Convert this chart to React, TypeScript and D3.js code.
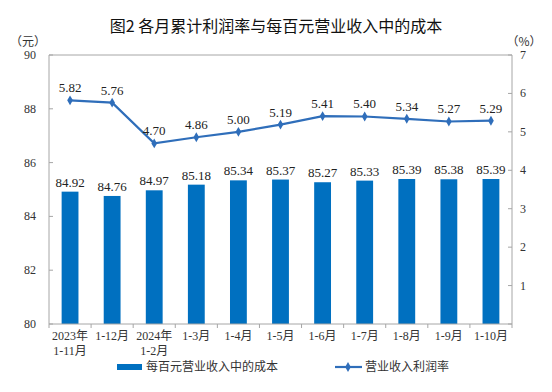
import React from 'react';
import * as d3 from 'd3';

const categories = [
  ['2023年', '1-11月'],
  ['1-12月'],
  ['2024年', '1-2月'],
  ['1-3月'],
  ['1-4月'],
  ['1-5月'],
  ['1-6月'],
  ['1-7月'],
  ['1-8月'],
  ['1-9月'],
  ['1-10月'],
];
const costValues = [84.92, 84.76, 84.97, 85.18, 85.34, 85.37, 85.27, 85.33, 85.39, 85.38, 85.39];
const profitRate = [5.82, 5.76, 4.7, 4.86, 5.0, 5.19, 5.41, 5.4, 5.34, 5.27, 5.29];
const leftTicks = [80, 82, 84, 86, 88, 90];
const rightTicks = [0, 1, 2, 3, 4, 5, 6, 7];

const width = 552;
const height = 392;
const margin = { top: 55, right: 40, bottom: 68, left: 49 };
const numFont = '"Liberation Serif", "Noto Sans CJK SC", serif';
const cjkFont = '"Noto Sans CJK SC", sans-serif';
const barColor = '#0070C0';
const lineColor = '#2F6EBA';
const axisColor = '#A6A6A6';

const App: React.FC = () => {
  const x = d3.scaleBand()
    .domain(categories.map((_, i) => i.toString()))
    .range([margin.left, width - margin.right])
    .paddingInner(0.6)
    .paddingOuter(0.3);
  const step = x.step();
  const bandStart = margin.left;
  const yLeft = d3.scaleLinear().domain([80, 90]).range([height - margin.bottom, margin.top]);
  const yRight = d3.scaleLinear().domain([0, 7]).range([height - margin.bottom, margin.top]);
  const cx = (i: number) => bandStart + step * (i + 0.5);
  const barW = x.bandwidth();

  const line = d3.line<number>()
    .x((_, i) => cx(i))
    .y(d => yRight(d));

  const diamond = d3.symbol().type(d3.symbolDiamond).size(28)() || '';
  const x0 = margin.left;
  const x1 = width - margin.right;
  const yb = height - margin.bottom;
  const yt = margin.top;

  return (
    <svg width={width} height={height} style={{ position: 'absolute', left: 0, top: 0 }}>
      <rect width={width} height={height} fill="#fff" />
      <text x={width / 2} y={32} textAnchor="middle" fontFamily={cjkFont} fontSize={16} fill="#111">
        图2 各月累计利润率与每百元营业收入中的成本
      </text>
      <text x={28} y={46} textAnchor="middle" fontFamily={cjkFont} fontSize={12} fill="#333">（元）</text>
      <text x={524} y={46} textAnchor="middle" fontFamily={cjkFont} fontSize={12} fill="#333">（%）</text>

      {/* frame */}
      <line x1={x0} x2={x1} y1={yt} y2={yt} stroke={axisColor} />
      <line x1={x0} x2={x0} y1={yt} y2={yb} stroke={axisColor} />
      <line x1={x1} x2={x1} y1={yt} y2={yb} stroke={axisColor} />

      {/* bars */}
      {costValues.map((v, i) => (
        <rect key={i} x={cx(i) - barW / 2} y={yLeft(v)} width={barW} height={yb - yLeft(v)} fill={barColor} />
      ))}
      {costValues.map((v, i) => (
        <text key={'bl' + i} x={cx(i)} y={yLeft(v) - 5} textAnchor="middle" fontFamily={numFont} fontSize={13} fill="#222">
          {v.toFixed(2)}
        </text>
      ))}

      {/* x axis */}
      <line x1={x0} x2={x1} y1={yb} y2={yb} stroke={axisColor} />
      {d3.range(categories.length + 1).map(i => (
        <line key={'xt' + i} x1={bandStart + step * i} x2={bandStart + step * i} y1={yb} y2={yb + 4} stroke={axisColor} />
      ))}
      {categories.map((c, i) => (
        <text key={'xl' + i} x={cx(i)} y={yb + 16} textAnchor="middle" fontFamily={numFont} fontSize={12} fill="#333">
          {c.map((s, j) => (
            <tspan key={j} x={cx(i)} dy={j === 0 ? 0 : 15}>{s}</tspan>
          ))}
        </text>
      ))}

      {/* left axis */}
      {leftTicks.map(t => (
        <g key={'lt' + t}>
          <line x1={x0} x2={x0 + 4} y1={yLeft(t)} y2={yLeft(t)} stroke={axisColor} />
          <text x={36} y={yLeft(t) + 4} textAnchor="end" fontFamily={numFont} fontSize={12} fill="#333">{t}</text>
        </g>
      ))}
      {/* right axis */}
      {rightTicks.map(t => (
        <g key={'rt' + t}>
          <line x1={x1 - 4} x2={x1} y1={yRight(t)} y2={yRight(t)} stroke={axisColor} />
          {t > 0 && (
            <text x={520} y={yRight(t) + 4} textAnchor="start" fontFamily={numFont} fontSize={12} fill="#333">{t}</text>
          )}
        </g>
      ))}

      {/* line */}
      <path d={line(profitRate) || ''} fill="none" stroke={lineColor} strokeWidth={2.2} />
      {profitRate.map((v, i) => (
        <path key={'m' + i} d={diamond} transform={`translate(${cx(i)},${yRight(v)})`} fill={lineColor} />
      ))}
      {profitRate.map((v, i) => (
        <text key={'ll' + i} x={cx(i)} y={yRight(v) - 8} textAnchor="middle" fontFamily={numFont} fontSize={13} fill="#222">
          {v.toFixed(2)}
        </text>
      ))}

      {/* legend */}
      <rect x={117} y={364} width={25} height={6} fill={barColor} />
      <text x={146} y={371} fontFamily={cjkFont} fontSize={12} fill="#333">每百元营业收入中的成本</text>
      <line x1={335} x2={362} y1={367} y2={367} stroke={lineColor} strokeWidth={2.2} />
      <path d={diamond} transform="translate(348,367)" fill={lineColor} />
      <text x={365} y={371} fontFamily={cjkFont} fontSize={12} fill="#333">营业收入利润率</text>
    </svg>
  );
};

export default App;
